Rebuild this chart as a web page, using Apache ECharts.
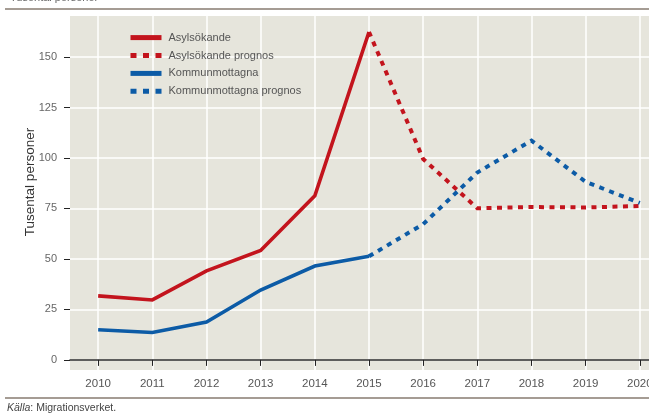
<!DOCTYPE html>
<html>
<head>
<meta charset="utf-8">
<script src="https://cdn.jsdelivr.net/npm/echarts@6/dist/echarts.min.js"></script>
<style>
  html, body { margin: 0; padding: 0; background: #ffffff; overflow: hidden; }
  #chart { width: 649px; height: 416px; }
</style>
</head>
<body>
<div id="chart"></div>
<script>
// Asylum seekers and municipal placements in Sweden, thousands of people
const years = [2010, 2011, 2012, 2013, 2014, 2015, 2016, 2017, 2018, 2019, 2020];
const asylYears = [2010, 2011, 2012, 2013, 2014, 2015];
const asylValues = [31.7, 29.7, 44.1, 54.2, 81.3, 162.4];
const asylPrognosYears = [2015, 2016, 2017, 2018, 2019, 2020];
const asylPrognosValues = [162.4, 99.5, 75.1, 75.7, 75.5, 76.2];
const kommunYears = [2010, 2011, 2012, 2013, 2014, 2015];
const kommunValues = [14.9, 13.6, 18.8, 34.6, 46.5, 51.3];
const kommunPrognosYears = [2015, 2016, 2017, 2018, 2019, 2020];
const kommunPrognosValues = [51.3, 67.2, 92.8, 108.6, 88.2, 77.7];
const yTicks = [0, 25, 50, 75, 100, 125, 150];

const RED = '#c3141d';
const BLUE = '#0c5ba6';
const FONT = 'Liberation Sans, Arial, sans-serif';

const pairs = (xs, ys) => xs.map((x, i) => [x, ys[i]]);

const chart = echarts.init(document.getElementById('chart'), null, { renderer: 'canvas' });

const solid = { width: 3.6, type: 'solid', cap: 'butt', join: 'miter' };
const dotted = { width: 4, type: [5, 5.5], cap: 'butt', join: 'miter' };
const noSymbol = { opacity: 0 };

chart.setOption({
  animation: false,
  textStyle: { fontFamily: FONT },
  grid: {
    left: 70, right: 0, top: 16, bottom: 46,
    outerBoundsMode: 'none',
    show: true, backgroundColor: '#e6e5dc', borderWidth: 0
  },
  xAxis: {
    type: 'value',
    min: 2009.48,
    max: 2020.17,
    axisLine: { onZero: true, lineStyle: { color: '#2a2a2a', width: 1.5 } },
    axisTick: { customValues: years, length: 6, lineStyle: { color: '#222', width: 1 } },
    axisLabel: {
      customValues: years, color: '#555', fontSize: 11.5, margin: 8, fontFamily: FONT,
      formatter: v => String(v)
    },
    splitLine: { show: true, lineStyle: { color: '#ffffff', width: 1.5 } }
  },
  yAxis: {
    type: 'value',
    min: -5,
    max: 170.3,
    name: 'Tusental personer',
    nameLocation: 'middle',
    nameRotate: 90,
    nameGap: 33,
    nameMoveOverlap: false,
    nameTextStyle: { color: '#333', fontSize: 13.5, fontFamily: FONT, padding: [0, 0, 0, 22] },
    axisLine: { show: false },
    axisTick: { show: true, customValues: yTicks, length: 6, lineStyle: { color: '#222', width: 1 } },
    axisLabel: { customValues: yTicks, color: '#666', fontSize: 11, margin: 13, fontFamily: FONT },
    splitLine: { show: true, lineStyle: { color: '#ffffff', width: 1.5 } }
  },
  legend: {
    orient: 'vertical',
    left: 128,
    top: 32,
    padding: 0,
    itemWidth: 31,
    itemHeight: 14,
    itemGap: 6.7,
    textStyle: { color: '#555', fontSize: 11, fontFamily: FONT, padding: [0, 0, 0, 2] },
    data: [
      { name: 'Asylsökande', itemStyle: noSymbol, lineStyle: { width: 5, type: 'solid' } },
      { name: 'Asylsökande prognos', itemStyle: noSymbol, lineStyle: { width: 5, type: [6, 6.5] } },
      { name: 'Kommunmottagna', itemStyle: noSymbol, lineStyle: { width: 5, type: 'solid' } },
      { name: 'Kommunmottagna prognos', itemStyle: noSymbol, lineStyle: { width: 5, type: [6, 6.5] } }
    ]
  },
  series: [
    {
      name: 'Asylsökande', type: 'line', symbol: 'none',
      data: pairs(asylYears, asylValues),
      lineStyle: Object.assign({ color: RED }, solid), itemStyle: { color: RED }
    },
    {
      name: 'Asylsökande prognos', type: 'line', symbol: 'none',
      data: pairs(asylPrognosYears, asylPrognosValues),
      lineStyle: Object.assign({ color: RED }, dotted), itemStyle: { color: RED }
    },
    {
      name: 'Kommunmottagna', type: 'line', symbol: 'none',
      data: pairs(kommunYears, kommunValues),
      lineStyle: Object.assign({ color: BLUE }, solid), itemStyle: { color: BLUE }
    },
    {
      name: 'Kommunmottagna prognos', type: 'line', symbol: 'none',
      data: pairs(kommunPrognosYears, kommunPrognosValues),
      lineStyle: Object.assign({ color: BLUE }, dotted), itemStyle: { color: BLUE }
    }
  ],
  graphic: [
    {
      type: 'text', left: 10, top: -8, silent: true,
      style: { text: 'Tusental personer', fill: '#666', font: '11px ' + FONT }
    },
    {
      type: 'rect', shape: { x: 5, y: 8, width: 644, height: 2 }, silent: true,
      style: { fill: '#a59c94' }
    },
    {
      type: 'rect', shape: { x: 5, y: 397, width: 644, height: 2 }, silent: true,
      style: { fill: '#a59c94' }
    },
    {
      type: 'text', left: 7, top: 403, silent: true,
      style: {
        text: '{i|Källa}: Migrationsverket.',
        fill: '#444',
        font: '10.5px ' + FONT,
        rich: { i: { fontStyle: 'italic', fontSize: 10.5, fill: '#444', fontFamily: FONT } }
      }
    }
  ]
});
</script>
</body>
</html>
